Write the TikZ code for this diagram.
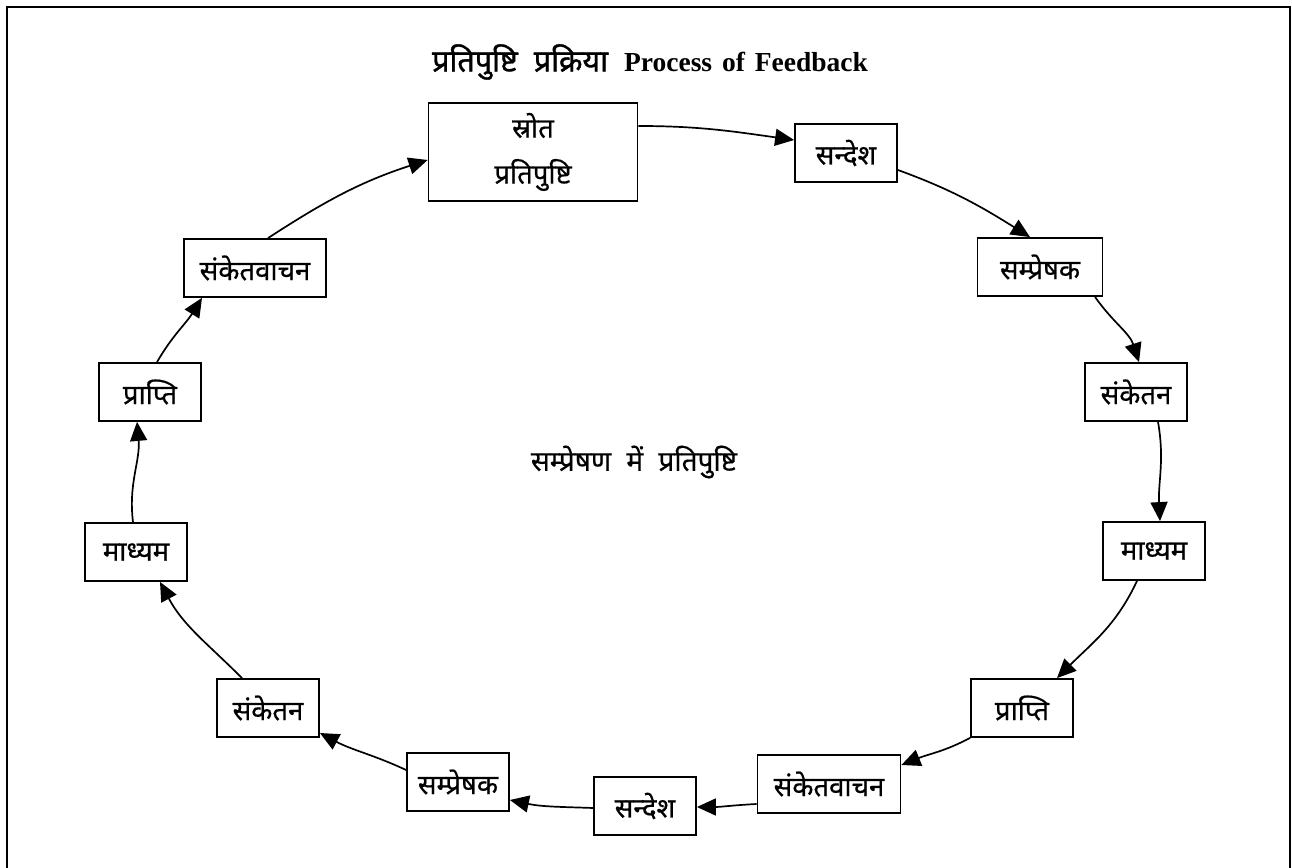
\documentclass[tikz,border=0pt]{standalone}
\usepackage{fontspec}
\usetikzlibrary{arrows.meta}
\newfontfamily\deva[Script=Devanagari,FakeBold=0.6]{Noto Sans}
\newfontfamily\devab[Script=Devanagari,FakeBold=1.2]{Noto Sans}
\newfontfamily\ser{Liberation Serif}
\begin{document}
\begin{tikzpicture}[x=1pt,y=1pt,
  box/.style={draw,line width=1.8pt,minimum width=102pt,minimum height=58pt,inner sep=0pt,font=\deva\fontsize{27.5}{30}\selectfont},
  conn/.style={line width=1.7pt,-{Triangle[length=19pt,width=17pt]}}]
\useasboundingbox (0,0) rectangle (1292,867);
\draw[line width=2.4pt] (7,-10) -- (7,860) -- (1290,860) -- (1290,-10);
\node[inner sep=0pt] (title) at (650,805) {\devab\bfseries\fontsize{30.5}{34}\selectfont प्रतिपुष्टि\hspace{16pt}प्रक्रिया\hspace{16pt}{\ser\bfseries\fontsize{27.5}{30}\selectfont Process\hspace{3pt} of\hspace{3pt} Feedback}};
\node[box,minimum width=209pt,minimum height=98pt,align=center] (src) at (533,715) {स्रोत\\[16pt]प्रतिपुष्टि};
\node[box] (msg1) at (846,714) {सन्देश};
\node[box,minimum width=125pt] (tx1) at (1040,600) {सम्प्रेषक};
\node[box] (enc1) at (1136,475) {संकेतन};
\node[box] (med1) at (1154,316) {माध्यम};
\node[box] (rec1) at (1022,159) {प्राप्ति};
\node[box,minimum width=143pt] (dec1) at (829,83) {संकेतवाचन};
\node[box] (msg2) at (645,61) {सन्देश};
\node[box] (tx2) at (458,85) {सम्प्रेषक};
\node[box] (enc2) at (268,159) {संकेतन};
\node[box] (med2) at (136,315) {माध्यम};
\node[box] (rec2) at (150,475) {प्राप्ति};
\node[box,minimum width=142pt] (dec2) at (255,599) {संकेतवाचन};
\node[font=\deva\fontsize{28}{32}\selectfont] (center) at (634,405) {सम्प्रेषण\hspace{8pt} में\hspace{8pt} प्रतिपुष्टि};
\draw[conn] ([yshift=26pt]src.east) to[out=0,in=172] ([yshift=13pt]msg1.west);
\draw[conn] ([yshift=-17pt]msg1.east) to[out=-20,in=148] ([xshift=-10pt]tx1.north);
\draw[conn] ([xshift=55pt]tx1.south) to[out=-55,in=108] ([xshift=3pt]enc1.north);
\draw[conn] ([xshift=22pt]enc1.south) to[out=-80,in=93] ([xshift=6pt]med1.north);
\draw[conn] ([xshift=-17pt]med1.south) to[out=-115,in=45] ([xshift=35pt]rec1.north);
\draw[conn] (rec1.south west) to[out=-152,in=22] ([yshift=19pt]dec1.east);
\draw[conn] ([yshift=-20pt]dec1.west) to[out=183,in=0] ([yshift=-1pt]msg2.east);
\draw[conn] ([yshift=-2pt]msg2.west) to[out=178,in=-12] ([yshift=-18pt]tx2.east);
\draw[conn] ([yshift=12pt]tx2.west) to[out=155,in=-28] ([yshift=-25pt]enc2.east);
\draw[conn] ([xshift=-26pt]enc2.north) to[out=135,in=-62] ([xshift=24pt]med2.south);
\draw[conn] ([xshift=-3pt]med2.north) to[out=97,in=-85] ([xshift=-13pt]rec2.south);
\draw[conn] ([xshift=7pt]rec2.north) to[out=60,in=-122] ([xshift=-53pt]dec2.south);
\draw[conn] ([xshift=13pt]dec2.north) to[out=33,in=198] ([yshift=-8pt]src.west);
\end{tikzpicture}
\end{document}
